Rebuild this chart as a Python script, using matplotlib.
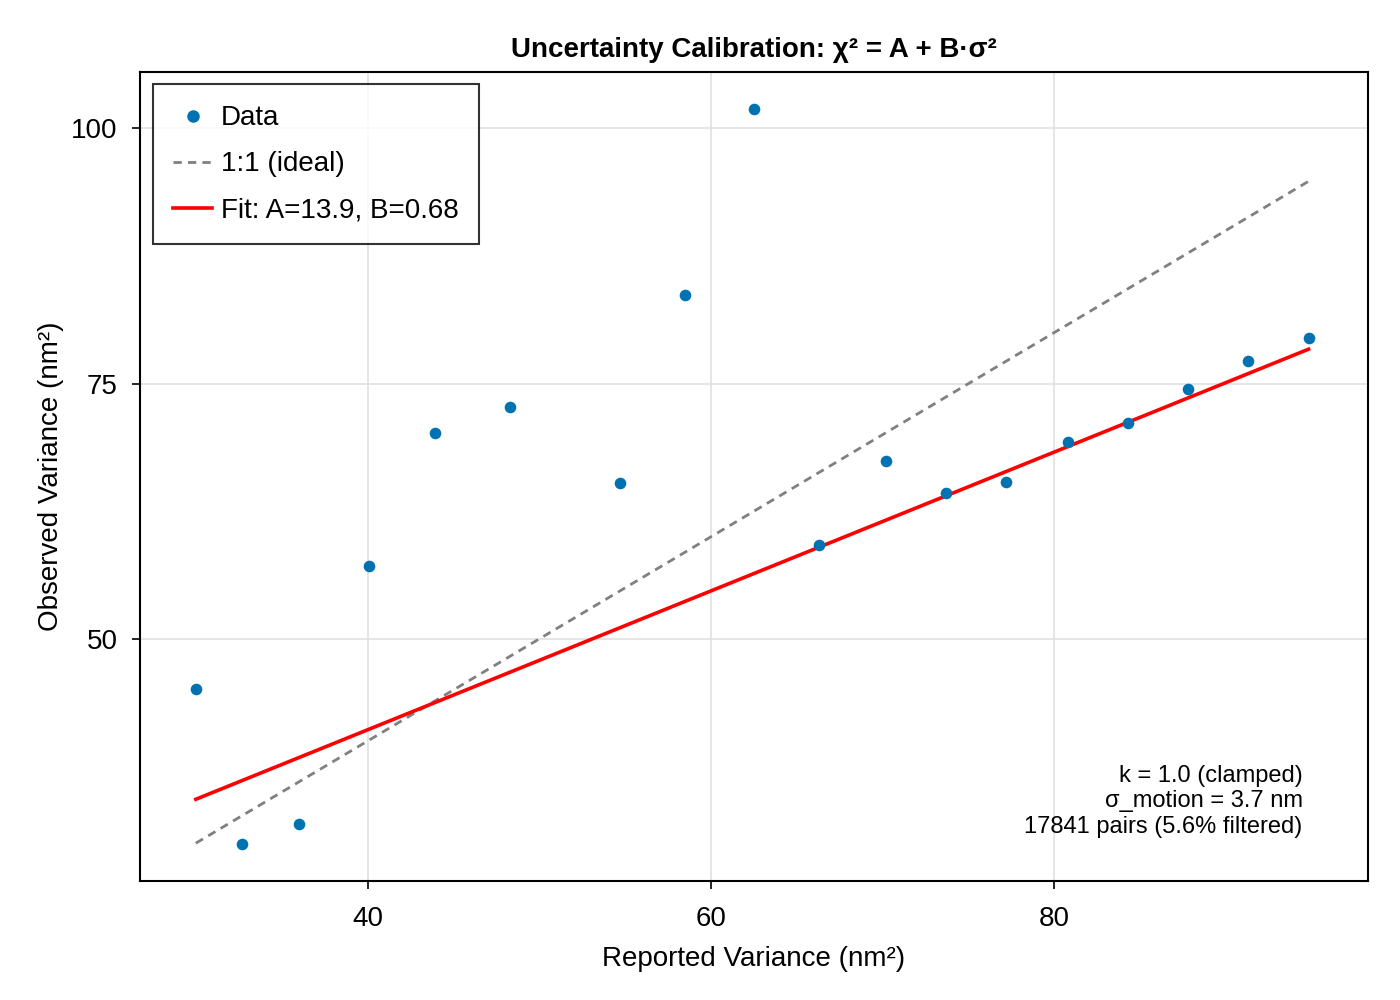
import numpy as np
import matplotlib
matplotlib.use('Agg')
import matplotlib.pyplot as plt
from matplotlib.lines import Line2D

plt.rcParams['font.family'] = ['Liberation Sans', 'DejaVu Sans']

# reported vs observed variance (nm^2)
reported = [30.0, 32.7, 36.0, 40.1, 43.9, 48.3, 54.7, 58.5, 62.5,
            66.3, 70.2, 73.7, 77.2, 80.8, 84.3, 87.8, 91.3, 94.8]
observed = [45.1, 29.9, 31.9, 57.1, 70.2, 72.7, 65.3, 83.7, 101.9,
            59.2, 67.4, 64.3, 65.4, 69.3, 71.1, 74.5, 77.2, 79.5]
fit_A = 13.9
fit_B = 0.68
info_lines = ['k = 1.0 (clamped)', 'σ_motion = 3.7 nm', '17841 pairs (5.6% filtered)']

x = np.array(reported)
y = np.array(observed)
xr = np.array([x.min(), x.max()])

fig = plt.figure(figsize=(14, 10), dpi=100)
ax = fig.add_axes([0.100, 0.119, 0.877, 0.809])

ax.scatter(x, y, s=70, color='#0072b2', zorder=3, linewidths=0)
ax.plot(xr, xr, ls=(0, (3, 2.2)), color='gray', lw=2, zorder=2)
ax.plot(xr, fit_A + fit_B * xr, color='red', lw=2.6, zorder=2)

ax.set_xlim(26.75, 98.25)
ax.set_ylim(26.3, 105.5)
ax.set_xticks([40, 60, 80])
ax.set_yticks([50, 75, 100])
ax.grid(True, color='#e0e0e0', lw=1.2)
ax.set_axisbelow(True)
for sp in ax.spines.values():
    sp.set_linewidth(1.5)
ax.tick_params(labelsize=20, direction='out', length=6, width=1.2, pad=12)
ax.tick_params(axis='y', pad=10)

ax.set_xlabel('Reported Variance (nm²)', fontsize=20, labelpad=10)
ax.set_ylabel('Observed Variance (nm²)', fontsize=20, labelpad=5)
ax.set_title('Uncertainty Calibration: χ² = A + B·σ²', fontsize=20,
             fontweight='bold', pad=11)

handles = [
    Line2D([], [], marker='o', ls='none', color='#0072b2', markersize=8),
    Line2D([], [], ls=(0, (3, 2.2)), color='gray', lw=2),
    Line2D([], [], color='red', lw=2.6),
]
labels = ['Data', '1:1 (ideal)', 'Fit: A=%.1f, B=%.2f' % (fit_A, fit_B)]
leg = ax.legend(handles, labels, loc='upper left', fontsize=20, frameon=True,
                fancybox=False, edgecolor='black', borderpad=0.75,
                handlelength=1.4, handletextpad=0.3, labelspacing=0.72,
                borderaxespad=0.45)
leg.get_frame().set_linewidth(1.5)

ax.text(0.947, 0.053, '\n'.join(info_lines), transform=ax.transAxes,
        ha='right', va='bottom', fontsize=17, linespacing=1.22)

fig.savefig('out.png', dpi=100)
